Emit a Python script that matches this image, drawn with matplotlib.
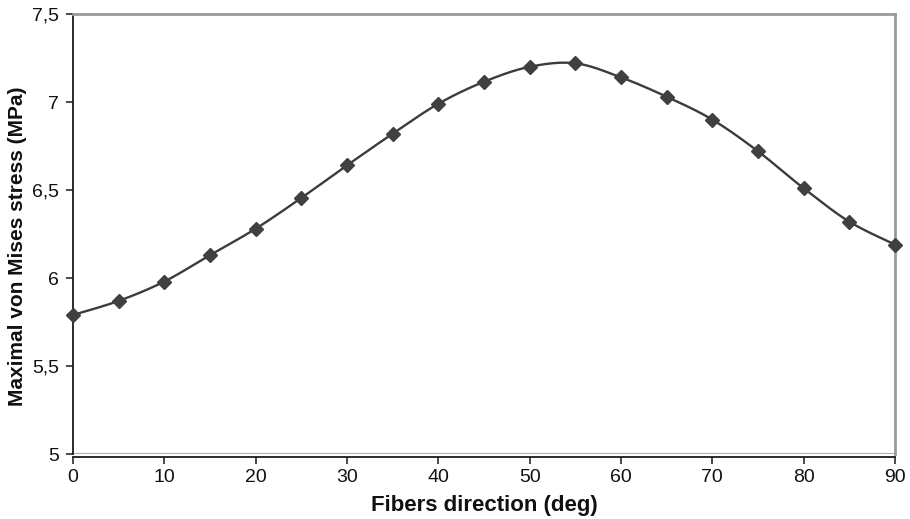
import numpy as np
import matplotlib
matplotlib.use("Agg")
import matplotlib.pyplot as plt
from matplotlib.ticker import FuncFormatter

angles = [0, 5, 10, 15, 20, 25, 30, 35, 40, 45, 50, 55, 60, 65, 70, 75, 80, 85, 90]
stress = [5.79, 5.87, 5.98, 6.13, 6.28, 6.455, 6.64, 6.82, 6.99, 7.115, 7.20,
          7.22, 7.14, 7.03, 6.90, 6.72, 6.51, 6.32, 6.19]
x_ticks = [0, 10, 20, 30, 40, 50, 60, 70, 80, 90]
y_ticks = [5, 5.5, 6, 6.5, 7, 7.5]


def smooth_curve(x, y, n=30):
    """Catmull-Rom style smoothing through every point (spreadsheet 'smoothed line')."""
    x = np.asarray(x, float)
    y = np.asarray(y, float)
    px = np.concatenate([[x[0]], x, [x[-1]]])
    py = np.concatenate([[y[0]], y, [y[-1]]])
    xs, ys = [], []
    t = np.linspace(0, 1, n)
    for i in range(1, len(px) - 2):
        p0, p1, p2, p3 = (np.array([px[j], py[j]]) for j in (i - 1, i, i + 1, i + 2))
        c1 = p1 + (p2 - p0) / 6.0
        c2 = p2 - (p3 - p1) / 6.0
        b = ((1 - t) ** 3)[:, None] * p1 + (3 * (1 - t) ** 2 * t)[:, None] * c1 \
            + (3 * (1 - t) * t ** 2)[:, None] * c2 + (t ** 3)[:, None] * p2
        xs.append(b[:, 0])
        ys.append(b[:, 1])
    return np.concatenate(xs), np.concatenate(ys)


plt.rcParams['font.family'] = ['Liberation Sans', 'DejaVu Sans']

fig = plt.figure(figsize=(9.10, 5.19), dpi=100)
ax = fig.add_axes([0.0802, 0.1252, 0.9033, 0.8478])

line_col = '#3c3c3c'
sx, sy = smooth_curve(angles, stress)
ax.plot(sx, sy, color=line_col, lw=1.7, zorder=3, clip_on=False)
ax.plot(angles, stress, linestyle='none', marker='D', markersize=7.5,
        color='#404040', zorder=4, clip_on=False)

ax.set_xlim(0, 90)
ax.set_ylim(5, 7.5)
ax.set_xticks(x_ticks)
ax.set_yticks(y_ticks)
ax.yaxis.set_major_formatter(FuncFormatter(lambda v, p: f"{v:g}".replace('.', ',')))

# plot-area frame in grey, value axes in black
for side in ('top', 'right'):
    ax.spines[side].set_color('#9a9a9a')
    ax.spines[side].set_linewidth(2.0)
for side in ('left', 'bottom'):
    ax.spines[side].set_color('#1a1a1a')
    ax.spines[side].set_linewidth(1.3)
ax.spines['bottom'].set_position(('outward', 2))
ax.axhline(5, color='#b0b0b0', lw=1.5, zorder=1)

ax.tick_params(axis='both', direction='out', length=5, width=1.1,
               color='#1a1a1a', labelsize=14, labelcolor='#111111')
ax.tick_params(axis='y', pad=5)
ax.tick_params(axis='x', pad=4)

ax.set_xlabel('Fibers direction (deg)', fontsize=16, fontweight='bold',
              color='#111111', labelpad=6)
fig.text(18 / 910, 1 - 246 / 519, 'Maximal von Mises stress (MPa)',
         rotation=90, ha='center', va='center', fontsize=15,
         fontweight='bold', color='#111111')

fig.savefig('out.png', dpi=100)
